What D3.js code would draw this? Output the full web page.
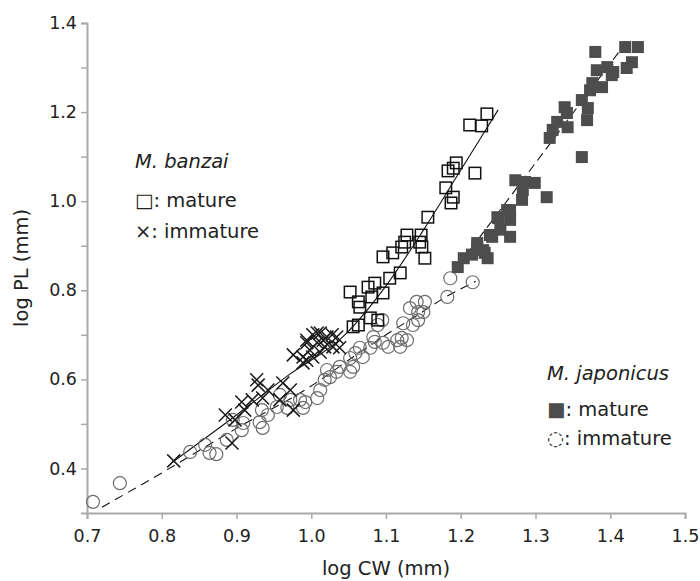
<!DOCTYPE html>
<html>
<head>
<meta charset="utf-8">
<script src="https://cdn.jsdelivr.net/npm/d3@7"></script>
<style>
  html, body { margin: 0; padding: 0; background: #fff; }
  svg { display: block; font-family: "DejaVu Sans", Verdana, sans-serif; }
</style>
</head>
<body>
<svg id="chart" width="700" height="581"></svg>
<script>
// ---- data (log CW, log PL) ----
const xTicks = [0.7, 0.8, 0.9, 1.0, 1.1, 1.2, 1.3, 1.4, 1.5];
const yTicks = [0.4, 0.6, 0.8, 1.0, 1.2, 1.4];
const yMinorTicks = [0.5, 0.7, 0.9, 1.1, 1.3];

const banzaiMature = [
  [1.235,1.196],[1.212,1.171],[1.228,1.169],[1.194,1.086],[1.190,1.074],[1.183,1.068],
  [1.219,1.063],[1.180,1.030],[1.190,1.009],[1.187,0.996],[1.156,0.964],[1.128,0.924],
  [1.147,0.924],[1.125,0.908],[1.145,0.908],[1.148,0.897],[1.109,0.884],[1.096,0.875],
  [1.152,0.872],[1.121,0.897],[1.119,0.839],[1.105,0.827],[1.085,0.816],[1.076,0.807],
  [1.096,0.794],[1.052,0.796],[1.063,0.774],[1.065,0.762],[1.081,0.785],[1.079,0.738],
  [1.089,0.733],[1.056,0.718],[1.063,0.722]
];
const banzaiImmature = [
  [0.816,0.417],[0.894,0.457],[0.885,0.520],[0.907,0.549],[0.898,0.509],[0.911,0.531],
  [0.921,0.554],[0.927,0.599],[0.929,0.587],[0.935,0.558],[0.942,0.576],[0.958,0.554],
  [0.962,0.592],[0.972,0.576],[0.976,0.655],[0.976,0.531],[0.989,0.637],[0.994,0.682],
  [0.994,0.643],[0.994,0.688],[1.002,0.650],[1.002,0.700],[1.008,0.704],[1.008,0.682],
  [1.012,0.704],[1.012,0.661],[1.016,0.688],[1.018,0.673],[1.021,0.695],[1.028,0.700],
  [1.029,0.673],[1.034,0.695],[1.038,0.671],[0.998,0.666],[0.989,0.650]
];
const japonicusMature = [
  [1.196,0.852],[1.204,0.872],[1.215,0.880],[1.222,0.906],[1.222,0.897],[1.232,0.884],
  [1.236,0.872],[1.230,0.890],[1.239,0.924],[1.242,0.920],[1.249,0.964],[1.253,0.936],
  [1.250,0.962],[1.262,0.980],[1.266,0.958],[1.266,0.920],[1.266,0.980],[1.273,1.047],
  [1.282,1.003],[1.283,1.025],[1.286,1.043],[1.299,1.041],[1.315,1.009],[1.319,1.142],
  [1.323,1.160],[1.329,1.178],[1.339,1.211],[1.342,1.198],[1.343,1.166],[1.362,1.099],
  [1.362,1.227],[1.369,1.182],[1.370,1.209],[1.373,1.249],[1.376,1.265],[1.389,1.256],
  [1.382,1.294],[1.396,1.301],[1.402,1.283],[1.404,1.290],[1.422,1.299],[1.429,1.312],
  [1.380,1.335],[1.420,1.346],[1.437,1.346]
];
const japonicusImmature = [
  [0.708,0.325],[0.744,0.367],[0.838,0.437],[0.858,0.453],[0.864,0.435],[0.887,0.464],
  [0.895,0.509],[0.907,0.486],[0.909,0.502],[0.931,0.504],[0.935,0.491],[0.942,0.520],
  [0.934,0.531],[0.954,0.538],[0.958,0.565],[0.968,0.536],[0.972,0.554],[0.985,0.554],
  [0.989,0.536],[0.992,0.549],[1.008,0.558],[1.012,0.576],[1.018,0.599],[1.021,0.621],
  [1.025,0.605],[1.034,0.617],[1.038,0.628],[1.052,0.617],[1.056,0.628],[1.052,0.648],
  [1.059,0.659],[1.069,0.650],[1.065,0.671],[1.079,0.671],[1.083,0.695],[1.085,0.684],
  [1.096,0.682],[1.103,0.673],[1.115,0.688],[1.121,0.693],[1.128,0.688],[1.119,0.673],
  [1.089,0.722],[1.095,0.733],[1.123,0.726],[1.136,0.722],[1.143,0.733],[1.132,0.760],
  [1.141,0.774],[1.152,0.774],[1.143,0.751],[1.150,0.751],[1.182,0.785],[1.186,0.827],
  [1.216,0.818],[0.873,0.432]
];
// fitted curves (knots)
const banzaiFit = [[0.815,0.415],[0.90,0.52],[0.97,0.61],[1.045,0.70],[1.10,0.81],[1.15,0.935],[1.20,1.07],[1.25,1.205]];
const japonicusImmatureFit = [[0.72,0.313],[0.80,0.39],[0.90,0.49],[1.00,0.585],[1.06,0.655],[1.10,0.70],[1.14,0.742],[1.18,0.785],[1.22,0.82]];
const japonicusMatureFit = [[1.19,0.84],[1.425,1.365]];

// ---- layout ----
const svg = d3.select("#chart");
const x = d3.scaleLinear().domain([0.7, 1.5]).range([87, 685]);
const y = d3.scaleLinear().domain([0.3, 1.4]).range([513, 23]);
const axisColor = "#aaaaaa";
const textColor = "#222";
const font = "'DejaVu Sans', Verdana, sans-serif";

// axes
const gx = svg.append("g").attr("transform", `translate(0,${y(0.3)})`)
  .call(d3.axisBottom(x).tickValues(xTicks).tickFormat(d3.format(".1f")).tickSizeOuter(0).tickSize(6).tickPadding(11));
const gy = svg.append("g").attr("transform", `translate(${x(0.7)},0)`)
  .call(d3.axisLeft(y).tickValues(yTicks).tickFormat(d3.format(".1f")).tickSizeOuter(0).tickSize(6).tickPadding(4));
const gyMinor = svg.append("g").attr("transform", `translate(${x(0.7)},0)`)
  .call(d3.axisLeft(y).tickValues(yMinorTicks).tickFormat("").tickSizeOuter(0).tickSize(6));
gyMinor.select(".domain").remove();
[gx, gy, gyMinor].forEach(g => {
  g.selectAll(".domain").attr("stroke", axisColor).attr("stroke-width", 2);
  g.selectAll(".tick line").attr("stroke", axisColor).attr("stroke-width", 1.5);
  g.selectAll(".tick text").attr("fill", textColor).style("font-size", "17.5px").style("font-family", font);
});

// axis titles
svg.append("text").attr("x", (x(0.7) + x(1.5)) / 2).attr("y", 575)
  .attr("text-anchor", "middle").attr("fill", textColor).style("font-size", "19.5px")
  .text("log CW (mm)");
svg.append("text").attr("transform", `translate(28,${(y(0.3) + y(1.4)) / 2}) rotate(-90)`)
  .attr("text-anchor", "middle").attr("fill", textColor).style("font-size", "19.5px")
  .text("log PL (mm)");

// fit lines
const line = d3.line().x(d => x(d[0])).y(d => y(d[1])).curve(d3.curveMonotoneX);
svg.append("path").datum(japonicusImmatureFit).attr("d", line)
  .attr("fill", "none").attr("stroke", "#111").attr("stroke-width", 1.1).attr("stroke-dasharray", "9,6");
svg.append("path").datum(banzaiFit).attr("d", line)
  .attr("fill", "none").attr("stroke", "#111").attr("stroke-width", 1.1);
svg.append("path").datum(japonicusMatureFit).attr("d", line)
  .attr("fill", "none").attr("stroke", "#111").attr("stroke-width", 1.1).attr("stroke-dasharray", "9,5");

// points
svg.append("g").selectAll("circle").data(japonicusImmature).join("circle")
  .attr("cx", d => x(d[0])).attr("cy", d => y(d[1])).attr("r", 6.5)
  .attr("fill", "none").attr("stroke", "#6e6e6e").attr("stroke-width", 1.2);

const cs = 6.5;
svg.append("g").selectAll("path").data(banzaiImmature).join("path")
  .attr("d", d => {
    const cx = x(d[0]), cy = y(d[1]);
    return `M${cx - cs},${cy - cs}L${cx + cs},${cy + cs}M${cx - cs},${cy + cs}L${cx + cs},${cy - cs}`;
  })
  .attr("fill", "none").attr("stroke", "#1a1a1a").attr("stroke-width", 1.5);

const sq = 11.5;
svg.append("g").selectAll("rect").data(banzaiMature).join("rect")
  .attr("x", d => x(d[0]) - sq / 2).attr("y", d => y(d[1]) - sq / 2)
  .attr("width", sq).attr("height", sq)
  .attr("fill", "none").attr("stroke", "#111").attr("stroke-width", 1.5);

const fsq = 12;
svg.append("g").selectAll("rect").data(japonicusMature).join("rect")
  .attr("x", d => x(d[0]) - fsq / 2).attr("y", d => y(d[1]) - fsq / 2)
  .attr("width", fsq).attr("height", fsq)
  .attr("fill", "#4d4d4d");

// legends
function legend(x0, y0, title, rows, gap, step) {
  const g = svg.append("g").attr("fill", textColor).style("font-size", "19.5px");
  g.append("text").attr("x", x0).attr("y", y0).style("font-style", "italic").text(title);
  rows.forEach((r, i) => {
    const t = g.append("text").attr("x", x0).attr("y", y0 + gap + i * step);
    t.append("tspan").attr("fill", r.color || textColor).text(r.sym);
    t.append("tspan").text(r.label);
  });
}
legend(135, 168, "M. banzai", [
  { sym: "\u25A1", label: ": mature" },
  { sym: "\u00D7", label: ": immature" }
], 39, 31);
legend(547, 380, "M. japonicus", [
  { sym: "\u25A0", label: ": mature", color: "#4d4d4d" },
  { sym: "\u25CC", label: ": immature" }
], 36, 29);
</script>
</body>
</html>
